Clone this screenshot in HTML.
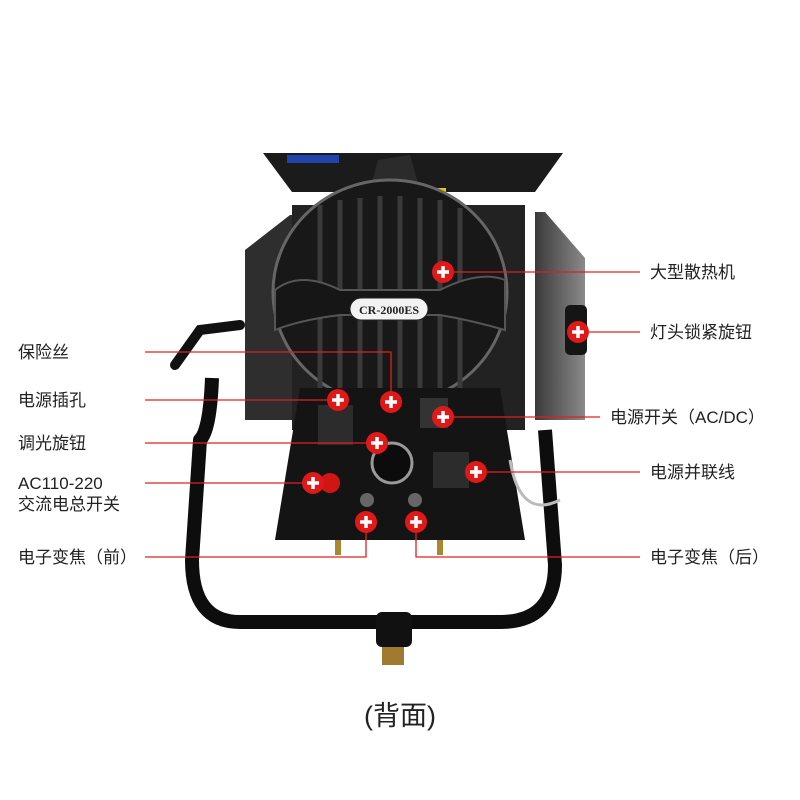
<!DOCTYPE html>
<html><head><meta charset="utf-8"><style>
html,body{margin:0;padding:0;background:#fff;}
svg{display:block}
text{font-family:"Liberation Sans","Noto Sans CJK SC",sans-serif;fill:#222;font-size:17px;}
</style></head><body>
<svg width="800" height="800" viewBox="0 0 800 800" xmlns="http://www.w3.org/2000/svg">
<defs>
<linearGradient id="rd" x1="0" x2="1"><stop offset="0" stop-color="#3a3a3a"/><stop offset="1" stop-color="#8a8a8a"/></linearGradient>
</defs>
<rect width="800" height="800" fill="#fff"/>
<!-- side barn doors -->
<polygon points="245,250 290,215 300,215 300,420 245,420" fill="#2e2e2e"/>
<polygon points="535,212 545,212 585,258 585,420 535,420" fill="url(#rd)"/>
<polygon points="292,205 525,205 525,430 292,430" fill="#222"/>
<!-- top door -->
<polygon points="263,153 563,153 535,192 292,192" fill="#1b1b1b"/>
<rect x="287" y="155" width="52" height="8" fill="#2244aa"/>
<rect x="418" y="188" width="28" height="9" fill="#e8c800"/>
<polygon points="370,190 378,160 410,155 420,190" fill="#2b2b2b"/>
<!-- round housing -->
<ellipse cx="390" cy="292" rx="117" ry="112" fill="#181818" stroke="#666" stroke-width="3"/>
<g stroke="#3a3a3a" stroke-width="5">
<line x1="320" y1="205" x2="320" y2="390"/><line x1="340" y1="200" x2="340" y2="390"/>
<line x1="360" y1="198" x2="360" y2="390"/><line x1="380" y1="196" x2="380" y2="390"/>
<line x1="400" y1="196" x2="400" y2="390"/><line x1="420" y1="198" x2="420" y2="390"/>
<line x1="440" y1="200" x2="440" y2="390"/><line x1="460" y1="208" x2="460" y2="390"/>
</g>
<path d="M275,290 Q300,270 340,290 L440,290 Q480,270 505,280 L505,330 Q470,320 440,315 L340,315 Q300,320 275,330 Z" fill="#161616" stroke="#555" stroke-width="2"/>
<rect x="350" y="298" width="78" height="22" rx="11" fill="#f2f2f2" stroke="#222"/>
<text x="389" y="314" text-anchor="middle" style="font-family:'Liberation Serif',serif;font-size:12px;font-weight:bold;fill:#222">CR-2000ES</text>
<!-- handles -->
<path d="M240,325 L200,330 L175,365" stroke="#111" stroke-width="10" fill="none" stroke-linecap="round"/>
<rect x="565" y="305" width="22" height="50" rx="5" fill="#151515"/>
<!-- control box -->
<polygon points="300,388 500,388 525,540 275,540" fill="#141414"/>
<rect x="318" y="405" width="35" height="40" fill="#2c2c2c"/>
<circle cx="392" cy="463" r="20" fill="#0c0c0c" stroke="#999" stroke-width="3"/>
<rect x="420" y="398" width="28" height="30" fill="#333"/>
<rect x="433" y="452" width="36" height="36" fill="#2c2c2c"/>
<circle cx="330" cy="483" r="10" fill="#d01515"/>
<circle cx="367" cy="500" r="7" fill="#666"/>
<circle cx="415" cy="500" r="7" fill="#666"/>
<rect x="335" y="540" width="6" height="15" fill="#a88830"/>
<rect x="437" y="540" width="6" height="15" fill="#a88830"/>
<!-- yoke -->
<path d="M212,378 Q210,430 200,440 L192,560 Q192,622 240,622 L500,622 Q555,622 555,565 L545,430" stroke="#0d0d0d" stroke-width="14" fill="none" stroke-linejoin="round"/>
<rect x="376" y="612" width="36" height="35" rx="6" fill="#111"/>
<rect x="382" y="647" width="22" height="18" fill="#a07a30"/>
<path d="M510,460 Q520,520 560,500" stroke="#bbb" stroke-width="3" fill="none"/>
<!-- connector lines -->
<g stroke="#e02020" stroke-width="1.3" fill="none">
<polyline points="443,272 640,272"/>
<polyline points="578,332 640,332"/>
<polyline points="145,352 391,352 391,402"/>
<polyline points="145,400 338,400"/>
<polyline points="443,417 600,417"/>
<polyline points="145,443 377,443"/>
<polyline points="476,472 640,472"/>
<polyline points="145,483 313,483"/>
<polyline points="145,557 366,557 366,522"/>
<polyline points="416,522 416,557 640,557"/>
</g>
<!-- markers -->
<g>
<g transform="translate(443,272)"><circle r="11" fill="#e01818"/><path d="M-6,0H6M0,-6V6" stroke="#fff" stroke-width="3.5"/></g>
<g transform="translate(578,332)"><circle r="11" fill="#e01818"/><path d="M-6,0H6M0,-6V6" stroke="#fff" stroke-width="3.5"/></g>
<g transform="translate(338,400)"><circle r="11" fill="#e01818"/><path d="M-6,0H6M0,-6V6" stroke="#fff" stroke-width="3.5"/></g>
<g transform="translate(391,402)"><circle r="11" fill="#e01818"/><path d="M-6,0H6M0,-6V6" stroke="#fff" stroke-width="3.5"/></g>
<g transform="translate(443,417)"><circle r="11" fill="#e01818"/><path d="M-6,0H6M0,-6V6" stroke="#fff" stroke-width="3.5"/></g>
<g transform="translate(377,443)"><circle r="11" fill="#e01818"/><path d="M-6,0H6M0,-6V6" stroke="#fff" stroke-width="3.5"/></g>
<g transform="translate(476,472)"><circle r="11" fill="#e01818"/><path d="M-6,0H6M0,-6V6" stroke="#fff" stroke-width="3.5"/></g>
<g transform="translate(313,483)"><circle r="11" fill="#e01818"/><path d="M-6,0H6M0,-6V6" stroke="#fff" stroke-width="3.5"/></g>
<g transform="translate(366,522)"><circle r="11" fill="#e01818"/><path d="M-6,0H6M0,-6V6" stroke="#fff" stroke-width="3.5"/></g>
<g transform="translate(416,522)"><circle r="11" fill="#e01818"/><path d="M-6,0H6M0,-6V6" stroke="#fff" stroke-width="3.5"/></g>
</g>
<!-- labels -->
<text x="18" y="358">保险丝</text>
<text x="18" y="406">电源插孔</text>
<text x="18" y="449">调光旋钮</text>
<text x="18" y="489">AC110-220</text>
<text x="18" y="510">交流电总开关</text>
<text x="18" y="563">电子变焦（前）</text>
<text x="650" y="278">大型散热机</text>
<text x="650" y="338">灯头锁紧旋钮</text>
<text x="610" y="423">电源开关（AC/DC）</text>
<text x="650" y="478">电源并联线</text>
<text x="650" y="563">电子变焦（后）</text>
<text x="400" y="725" text-anchor="middle" style="font-size:27px">(背面)</text>
</svg>
</body></html>
